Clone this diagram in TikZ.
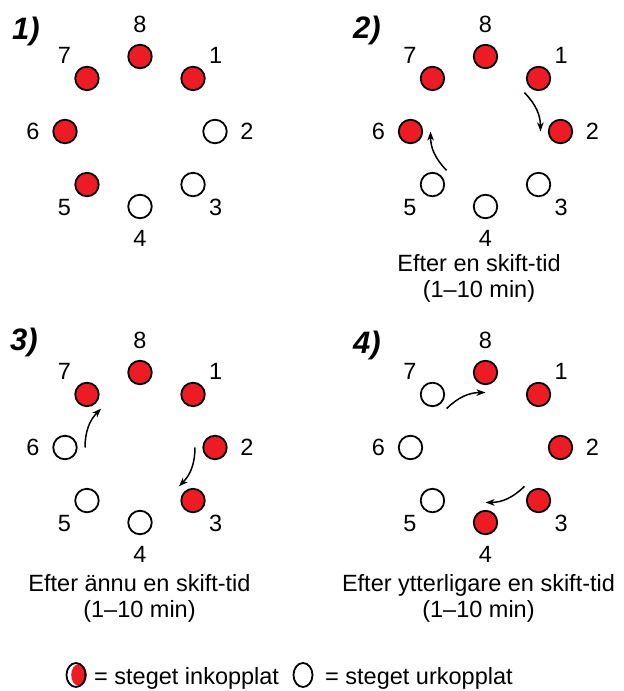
\documentclass[tikz,border=0pt]{standalone}
\usepackage{fontspec}
\setmainfont{Liberation Sans}
\usetikzlibrary{arrows.meta,shapes.geometric}
\definecolor{stepred}{RGB}{237,28,36}

\begin{document}
\begin{tikzpicture}[x=1pt,y=1pt,
    font=\fontsize{23.5}{26}\selectfont,
    stepon/.style={circle,draw,line width=1.8pt,fill=stepred,minimum size=23.5pt,inner sep=0pt},
    stepoff/.style={stepon,fill=white},
    legsym/.style={ellipse,draw,line width=1.8pt,minimum width=19pt,minimum height=24pt,inner sep=0pt},
    panel/.style={font=\fontsize{31}{36}\selectfont\bfseries\itshape},
    shiftarrow/.style={-{Stealth[length=9pt,width=6.5pt,inset=2.5pt]},line width=1.5pt}]
  \useasboundingbox (0,0) rectangle (624,691);

  % 1)
  \node[panel] (p1) at (26,660) {1)};
  \begin{scope}[shift={(140,559.5)}]
    \path
      (90:75) node[stepon] (a8) {}
      (45:75) node[stepon] (a1) {}
      (0:75) node[stepoff] (a2) {}
      (-45:75) node[stepoff] (a3) {}
      (-90:75) node[stepoff] (a4) {}
      (-135:75) node[stepon] (a5) {}
      (180:75) node[stepon] (a6) {}
      (135:75) node[stepon] (a7) {};
    \path
      (90:107) node (a8l) {8}
      (45:107) node (a1l) {1}
      (0:107) node (a2l) {2}
      (-45:107) node (a3l) {3}
      (-90:107) node (a4l) {4}
      (-135:107) node (a5l) {5}
      (180:107) node (a6l) {6}
      (135:107) node (a7l) {7};
  \end{scope}

  % 2)
  \node[panel] (p2) at (367,661) {2)};
  \begin{scope}[shift={(485.5,559.5)}]
    \path
      (90:75) node[stepon] (b8) {}
      (45:75) node[stepon] (b1) {}
      (0:75) node[stepon] (b2) {}
      (-45:75) node[stepoff] (b3) {}
      (-90:75) node[stepoff] (b4) {}
      (-135:75) node[stepoff] (b5) {}
      (180:75) node[stepon] (b6) {}
      (135:75) node[stepon] (b7) {};
    \path
      (90:107) node (b8l) {8}
      (45:107) node (b1l) {1}
      (0:107) node (b2l) {2}
      (-45:107) node (b3l) {3}
      (-90:107) node (b4l) {4}
      (-135:107) node (b5l) {5}
      (180:107) node (b6l) {6}
      (135:107) node (b7l) {7};
    \path
      (45:55) coordinate (b1i)
      (0:55) coordinate (b2i)
      (-135:55) coordinate (b5i)
      (180:55) coordinate (b6i);
    \draw[shiftarrow] (b1i) to[bend left=22] (b2i);
    \draw[shiftarrow] (b5i) to[bend left=22] (b6i);
  \end{scope}
  \node[anchor=base] (bcap1) at (479,419) {Efter en skift-tid};
  \node[anchor=base] (bcap2) at (479,393) {(1–10 min)};

  % 3)
  \node[panel] (p3) at (24,349) {3)};
  \begin{scope}[shift={(140,243.5)}]
    \path
      (90:75) node[stepon] (c8) {}
      (45:75) node[stepon] (c1) {}
      (0:75) node[stepon] (c2) {}
      (-45:75) node[stepon] (c3) {}
      (-90:75) node[stepoff] (c4) {}
      (-135:75) node[stepoff] (c5) {}
      (180:75) node[stepoff] (c6) {}
      (135:75) node[stepon] (c7) {};
    \path
      (90:107) node (c8l) {8}
      (45:107) node (c1l) {1}
      (0:107) node (c2l) {2}
      (-45:107) node (c3l) {3}
      (-90:107) node (c4l) {4}
      (-135:107) node (c5l) {5}
      (180:107) node (c6l) {6}
      (135:107) node (c7l) {7};
    \path
      (0:55) coordinate (c2i)
      (-45:55) coordinate (c3i)
      (180:55) coordinate (c6i)
      (135:55) coordinate (c7i);
    \draw[shiftarrow] (c2i) to[bend left=22] (c3i);
    \draw[shiftarrow] (c6i) to[bend left=22] (c7i);
  \end{scope}
  \node[anchor=base] (ccap1) at (139.5,99) {Efter ännu en skift-tid};
  \node[anchor=base] (ccap2) at (139.5,73) {(1–10 min)};

  % 4)
  \node[panel] (p4) at (367,346) {4)};
  \begin{scope}[shift={(485.5,243.5)}]
    \path
      (90:75) node[stepon] (d8) {}
      (45:75) node[stepon] (d1) {}
      (0:75) node[stepon] (d2) {}
      (-45:75) node[stepon] (d3) {}
      (-90:75) node[stepon] (d4) {}
      (-135:75) node[stepoff] (d5) {}
      (180:75) node[stepoff] (d6) {}
      (135:75) node[stepoff] (d7) {};
    \path
      (90:107) node (d8l) {8}
      (45:107) node (d1l) {1}
      (0:107) node (d2l) {2}
      (-45:107) node (d3l) {3}
      (-90:107) node (d4l) {4}
      (-135:107) node (d5l) {5}
      (180:107) node (d6l) {6}
      (135:107) node (d7l) {7};
    \path
      (-45:55) coordinate (d3i)
      (-90:55) coordinate (d4i)
      (135:55) coordinate (d7i)
      (90:55) coordinate (d8i);
    \draw[shiftarrow] (d3i) to[bend left=22] (d4i);
    \draw[shiftarrow] (d7i) to[bend left=22] (d8i);
  \end{scope}
  \node[anchor=base] (dcap1) at (478.5,99) {Efter ytterligare en skift-tid};
  \node[anchor=base] (dcap2) at (478.5,73) {(1–10 min)};

  % legend
  \fill[stepred] (79,16) ellipse [x radius=7.8, y radius=11];
  \node[legsym] (lgon) at (76,16) {};
  \node[anchor=base west,inner sep=0pt] (lgontxt) at (94,6) {= steget inkopplat};
  \node[legsym] (lgoff) at (303,16) {};
  \node[anchor=base west,inner sep=0pt] (lgofftxt) at (325,6) {= steget urkopplat};
\end{tikzpicture}
\end{document}
